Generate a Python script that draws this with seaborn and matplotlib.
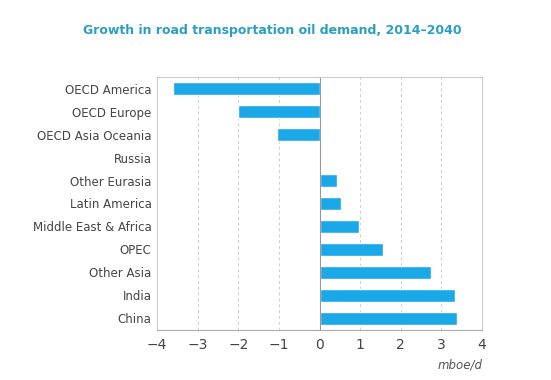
import numpy as np
import pandas as pd
import seaborn as sns
import matplotlib.pyplot as plt

regions = ['OECD America', 'OECD Europe', 'OECD Asia Oceania', 'Russia',
           'Other Eurasia', 'Latin America', 'Middle East & Africa', 'OPEC',
           'Other Asia', 'India', 'China']
growth = [-3.6, -2.0, -1.06, 0.04, 0.44, 0.53, 0.98, 1.55, 2.75, 3.33, 3.38]
x_ticks = [-4, -3, -2, -1, 0, 1, 2, 3, 4]

df = pd.DataFrame({'region': regions, 'growth': growth})

sns.set_style('white')
plt.rcParams['font.family'] = ['DejaVu Sans']

fig = plt.figure(figsize=(5.51, 3.80), dpi=100)
ax = fig.add_axes([0.285, 0.132, 0.59, 0.665])

sns.barplot(data=df, x='growth', y='region', color='#1ba8e8', saturation=1,
            width=0.56, orient='h', ax=ax)

ax.set_xlim(-4, 4)
ax.set_xticks(x_ticks)
ax.set_xticklabels([str(t).replace('-', '\u2212') for t in x_ticks])
ax.xaxis.grid(True, linestyle=(0, (3, 3)), color='#cccccc', linewidth=0.7)
ax.set_axisbelow(True)
ax.axvline(0, color='#999999', linewidth=0.8)
for s in ax.spines.values():
    s.set_color('#cccccc')
    s.set_linewidth(0.8)
ax.spines['bottom'].set_color('#aaaaaa')
ax.tick_params(axis='both', length=0, labelsize=8.5, colors='#444444', pad=4)
ax.tick_params(axis='x', length=4, color='#aaaaaa', labelsize=10, pad=2)
ax.set_xlabel('')
ax.set_ylabel('')

fig.text(0.495, 0.92, 'Growth in road transportation oil demand, 2014\u20132040',
         ha='center', va='center', fontsize=9, fontweight='bold', color='#2a9fc4')
fig.text(0.875, 0.04, 'mboe/d', ha='right', va='center', fontsize=8.5,
         style='italic', color='#555555')

fig.savefig('out.png', dpi=100)
